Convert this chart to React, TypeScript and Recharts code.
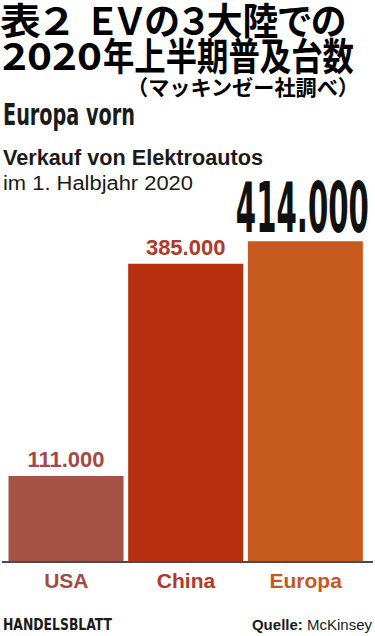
import * as React from 'react';
import { BarChart, Bar, XAxis, YAxis, Cell, LabelList } from 'recharts';

const regions = ['USA', 'China', 'Europa'];
const sales = [111000, 385000, 414000];
const barColors = ['#a65245', '#b8300f', '#c65a1e'];
const textColors = ['#a24a45', '#b0392a', '#c5581f'];

const titleLine1 = ['表２', 'ＥＶの３大陸での'];
const titleLine2 = ['2020', '年上半期普及台数'];
const titleNote = '（マッキンゼー社調べ）';
const headline = 'Europa vorn';
const subtitle = ['Verkauf von Elektroautos', 'im 1. Halbjahr 2020'];

const data = regions.map((region, i) => ({ region, sales: sales[i] }));

const SANS = '"Liberation Sans", Arial, sans-serif';
const NARROW = '"Liberation Sans Narrow", "DejaVu Sans Condensed", "Liberation Sans", sans-serif';
const CJK = '"Noto Sans CJK JP", "Noto Sans CJK SC", sans-serif';
const palt = { fontFeatureSettings: '"palt"' };

// german thousands separator
const fmt = (v: number) => String(v).replace(/\B(?=(\d{3})+(?!\d))/g, '.');

const renderValueLabel = (props: any) => {
  const { x, y, width, index } = props;
  const cx = Number(x) + Number(width) / 2;
  const top = Number(y);
  const value = sales[index];
  // the leading value gets the big black number
  if (index === sales.indexOf(Math.max(...sales))) {
    return (
      <text
        x={cx - 3}
        y={top - 9}
        textAnchor="middle"
        fill="#111"
        fontSize={70}
        fontWeight={700}
        fontFamily={NARROW}
        textLength={133}
        lengthAdjust="spacingAndGlyphs"
      >
        {fmt(value)}
      </text>
    );
  }
  return (
    <text
      x={cx}
      y={top - 9}
      textAnchor="middle"
      fill={textColors[index]}
      fontSize={22}
      fontWeight={700}
      fontFamily={SANS}
    >
      {fmt(value)}
    </text>
  );
};

const RegionTick = (props: any) => {
  const { x, y, payload, index } = props;
  return (
    <text
      x={x}
      y={Number(y) + 26}
      textAnchor="middle"
      fill={textColors[index]}
      fontSize={21}
      fontWeight={700}
      fontFamily={SANS}
    >
      {payload.value}
    </text>
  );
};

export default function App() {
  return (
    <div style={{ position: 'relative', width: 375, height: 636, background: '#fff', overflow: 'hidden' }}>
      <style>{'body{margin:0;background:#fff}'}</style>
      <svg width={375} height={636} style={{ position: 'absolute', left: 0, top: 0 }}>
        {/* Japanese title, stretched to the reference widths */}
        <text x={0} y={35} fontSize={37} fontWeight={700} fontFamily={CJK} fill="#000" style={palt} textLength={72} lengthAdjust="spacingAndGlyphs">
          {titleLine1[0]}
        </text>
        <text x={89} y={35} fontSize={37} fontWeight={700} fontFamily={CJK} fill="#000" style={palt} textLength={257} lengthAdjust="spacingAndGlyphs">
          {titleLine1[1]}
        </text>
        <text x={2} y={70} fontSize={38} fontWeight={700} fontFamily={CJK} fill="#000" textLength={100} lengthAdjust="spacingAndGlyphs">
          {titleLine2[0]}
        </text>
        <text x={103} y={70} fontSize={38} fontWeight={700} fontFamily={CJK} fill="#000" textLength={251} lengthAdjust="spacingAndGlyphs">
          {titleLine2[1]}
        </text>
        <text x={127} y={95} fontSize={21} fontWeight={700} fontFamily={CJK} fill="#000" textLength={232} lengthAdjust="spacingAndGlyphs">
          {titleNote}
        </text>
        <text x={3} y={125} fontSize={31} fontWeight={700} fontFamily={NARROW} fill="#1a1a1a" textLength={132} lengthAdjust="spacingAndGlyphs">
          {headline}
        </text>
        <text x={3} y={165} fontSize={22} fontWeight={700} fontFamily={SANS} fill="#1a1a1a" textLength={260} lengthAdjust="spacingAndGlyphs">
          {subtitle[0]}
        </text>
        <text x={3} y={190} fontSize={20} fontFamily={SANS} fill="#1a1a1a" textLength={190} lengthAdjust="spacingAndGlyphs">
          {subtitle[1]}
        </text>
        <text x={3} y={630} fontSize={16} fontWeight={700} fontFamily={NARROW} fill="#1a1a1a" textLength={109} lengthAdjust="spacingAndGlyphs">
          HANDELSBLATT
        </text>
        <text x={372} y={630} textAnchor="end" fontSize={15} fontFamily={SANS} fill="#1a1a1a">
          <tspan fontWeight={700}>Quelle: </tspan>
          <tspan>McKinsey</tspan>
        </text>
      </svg>
      <div style={{ position: 'absolute', left: 0, top: 0 }}>
        <BarChart
          width={375}
          height={636}
          data={data}
          margin={{ top: 190, right: 2, bottom: 24, left: 2 }}
          barSize={115}
        >
          <YAxis hide domain={[0, 480000]} />
          <XAxis
            dataKey="region"
            height={50}
            padding={{ left: 4.5, right: 7.5 }}
            axisLine={{ stroke: '#4a4a4a', strokeWidth: 2 }}
            tickLine={false}
            tickSize={0}
            tickMargin={0}
            tick={<RegionTick />}
            interval={0}
          />
          <Bar dataKey="sales" isAnimationActive={false}>
            {data.map((_, i) => (
              <Cell key={`cell-${i}`} fill={barColors[i]} />
            ))}
            <LabelList dataKey="sales" content={renderValueLabel} />
          </Bar>
        </BarChart>
      </div>
    </div>
  );
}
